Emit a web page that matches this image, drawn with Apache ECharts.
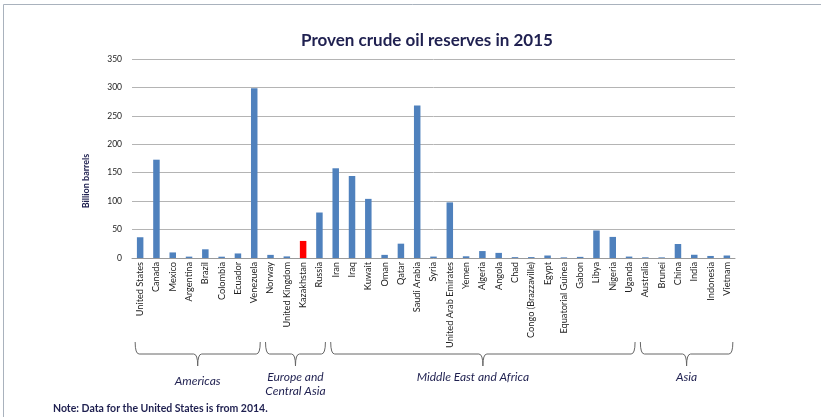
<!DOCTYPE html>
<html><head><meta charset="utf-8">
<script src="https://cdn.jsdelivr.net/npm/echarts@6/dist/echarts.min.js"></script>
<style>html,body{margin:0;padding:0;background:#fff}#c{width:821px;height:417px}</style>
</head><body><div id="c"></div>
<script>
const countries = ["United States","Canada","Mexico","Argentina","Brazil","Colombia","Ecuador","Venezuela",
  "Norway","United Kingdom","Kazakhstan","Russia",
  "Iran","Iraq","Kuwait","Oman","Qatar","Saudi Arabia","Syria","United Arab Emirates","Yemen","Algeria","Angola","Chad","Congo (Brazzaville)","Egypt","Equatorial Guinea","Gabon","Libya","Nigeria","Uganda",
  "Australia","Brunei","China","India","Indonesia","Vietnam"];
const reserves = [36.5,172.9,9.8,2.4,15.3,2.3,8.0,298.4,
  5.5,2.8,30.0,80.0,
  157.8,144.2,104.0,5.5,25.2,268.3,2.5,97.8,3.0,12.2,9.0,1.5,1.6,4.4,1.1,2.0,48.4,37.1,2.5,
  1.2,1.1,24.6,5.7,3.6,4.4];
const highlighted = ["Kazakhstan"];
const regions = [
  {name:"Americas", lines:["Americas"], first:"United States", last:"Venezuela"},
  {name:"Europe and Central Asia", lines:["Europe and","Central Asia"], first:"Norway", last:"Russia"},
  {name:"Middle East and Africa", lines:["Middle East and Africa"], first:"Iran", last:"Uganda"},
  {name:"Asia", lines:["Asia"], first:"Australia", last:"Vietnam"}
];
const yTicks = [0,50,100,150,200,250,300,350];
const titleText = "Proven crude oil reserves in 2015";
const yName = "Billion barrels";
const noteText = "Note: Data for the United States is from 2014.";

const navy = "#1f2050";
const chart = echarts.init(document.getElementById('c'), null, {renderer:'canvas'});
const option = {
  animation:false,
  textStyle:{fontFamily:'Lato'},
  title:{text:titleText,left:422,textAlign:'center',top:27,
    textStyle:{fontFamily:'Lato',fontSize:17,fontWeight:'bold',color:navy}},
  grid:{left:132,right:86,top:59,bottom:159,containLabel:false},
  xAxis:{type:'category',data:countries,
    axisLine:{lineStyle:{color:'#9a9a9a',width:1}},
    axisTick:{show:false},
    axisLabel:{rotate:90,interval:0,fontFamily:'Lato',fontSize:9.2,color:'#222',margin:4}},
  yAxis:{type:'value',min:yTicks[0],max:yTicks[yTicks.length-1],interval:50,
    axisLine:{show:false},axisTick:{show:false},
    axisLabel:{fontFamily:'Lato',fontSize:8.5,color:'#222',margin:10},
    splitLine:{lineStyle:{color:'#b4b4b4',width:1}}},
  series:[{type:'bar',barWidth:6.5,
    data:reserves.map((v,i)=>({value:v,itemStyle:{color:highlighted.includes(countries[i])?'#ff0000':'#4f81bd'}}))}]
};
chart.setOption(option);

const yt=342, ym=354, yb=366;
const g=[];
g.push({type:'rect',shape:{x:3.5,y:4.5,width:900,height:500},style:{fill:'none',stroke:'#a9b2bd',lineWidth:1},silent:true});
g.push({type:'text',x:86,y:181,rotation:Math.PI/2,style:{text:yName,align:'center',verticalAlign:'middle',
  font:'bold 9px Lato',fill:navy},silent:true});
const ls={fill:'none',stroke:'#666',lineWidth:1};
regions.forEach(r=>{
  const x1=chart.convertToPixel({xAxisIndex:0},r.first);
  const x2=chart.convertToPixel({xAxisIndex:0},r.last);
  const xa=x1-5, xb=x2+6, xc=(xa+xb)/2;
  g.push({type:'bezierCurve',shape:{x1:xa,y1:yt,x2:xa+4,y2:ym,cpx1:xa,cpy1:ym},style:ls,silent:true});
  g.push({type:'line',shape:{x1:xa+4,y1:ym,x2:xc-4,y2:ym},style:ls,silent:true});
  g.push({type:'bezierCurve',shape:{x1:xc-4,y1:ym,x2:xc,y2:yb,cpx1:xc,cpy1:ym},style:ls,silent:true});
  g.push({type:'bezierCurve',shape:{x1:xc+4,y1:ym,x2:xc,y2:yb,cpx1:xc,cpy1:ym},style:ls,silent:true});
  g.push({type:'line',shape:{x1:xc+4,y1:ym,x2:xb-4,y2:ym},style:ls,silent:true});
  g.push({type:'bezierCurve',shape:{x1:xb-4,y1:ym,x2:xb,y2:yt,cpx1:xb,cpy1:ym},style:ls,silent:true});
  const ty = r.name==="Americas"?374:370;
  const dx = r.name==="Middle East and Africa"?-10:0;
  g.push({type:'text',x:xc+dx,y:ty,style:{text:r.lines.join('\n'),align:'center',verticalAlign:'top',
    font:'italic 12px Lato',fill:navy,lineHeight:14},silent:true});
});
g.push({type:'text',x:53,y:403,style:{text:noteText,font:'bold 10.5px Lato',fill:navy,verticalAlign:'top'},silent:true});
chart.setOption({graphic:g});
</script></body></html>
